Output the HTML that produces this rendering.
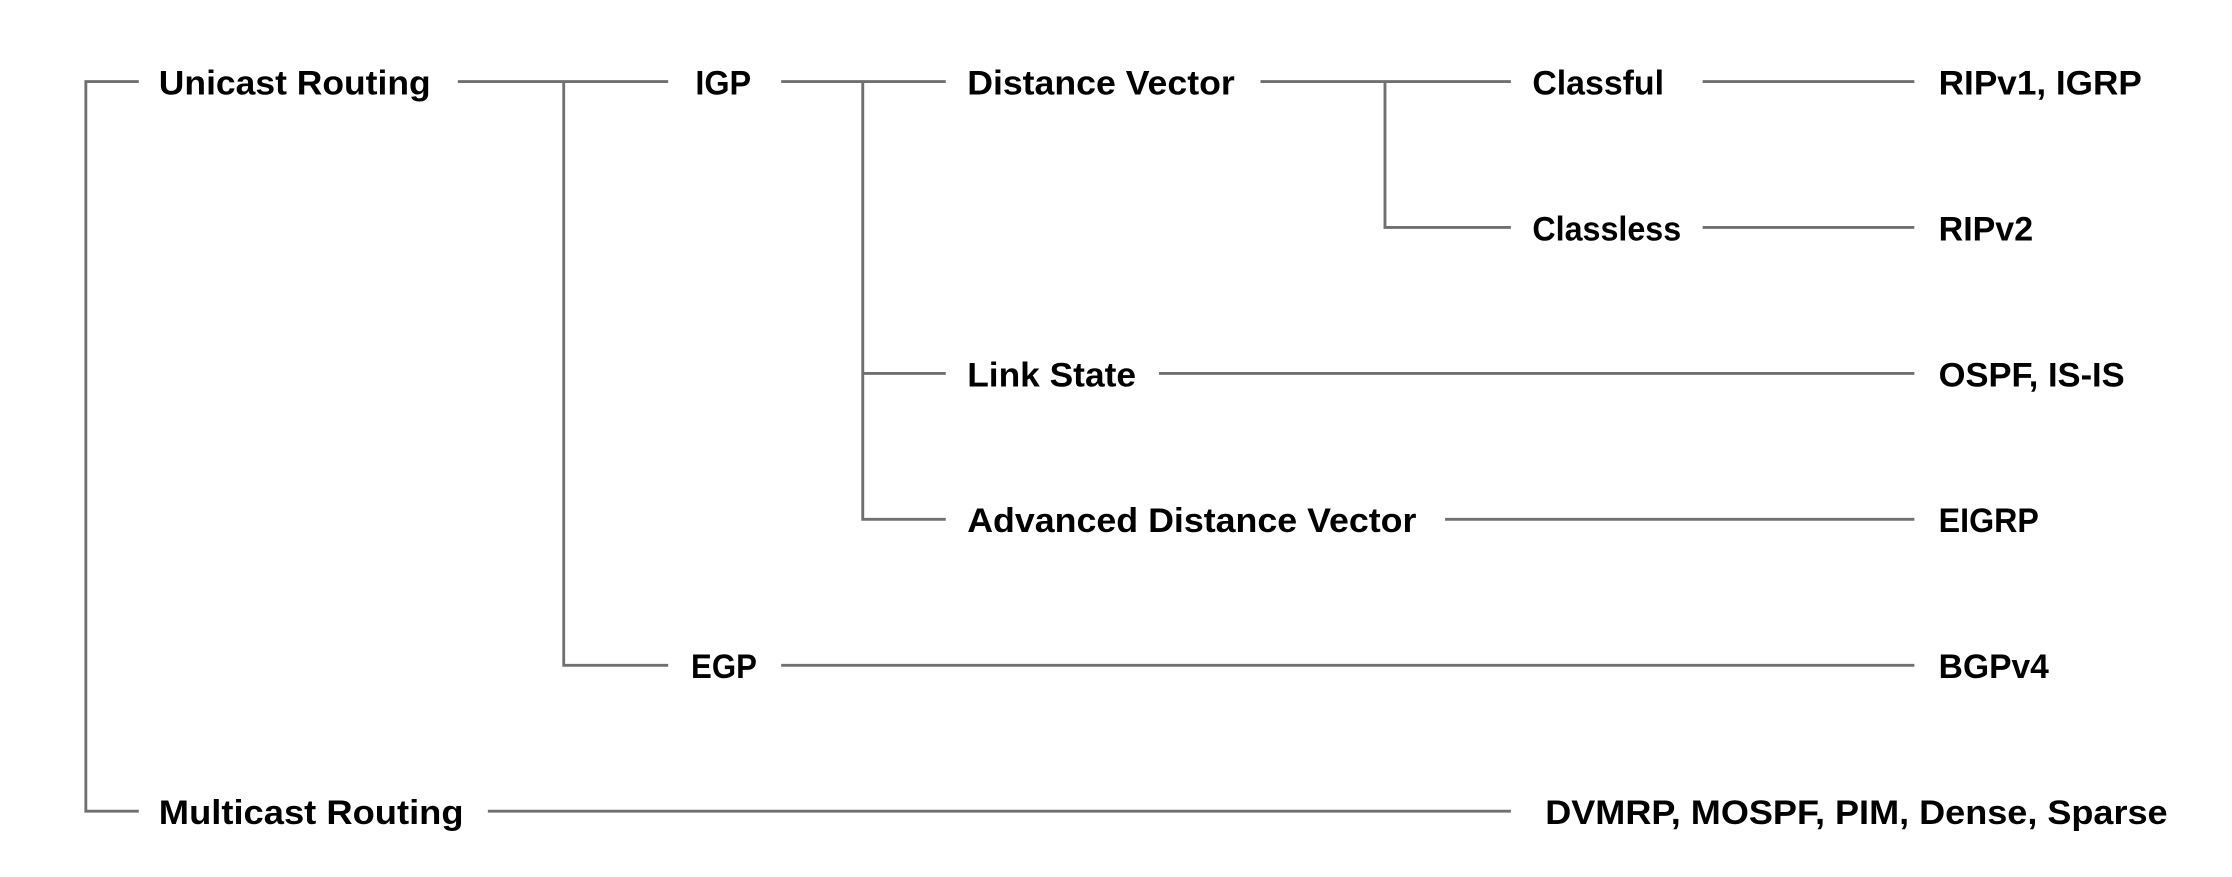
<!DOCTYPE html>
<html><head><meta charset="utf-8"><style>
html,body{margin:0;padding:0;background:#fff;}
svg{display:block;}
text{font-family:"Liberation Sans","Noto Sans CJK KR",sans-serif;font-weight:bold;font-size:24px;fill:#000;}
</style></head><body>
<svg width="2232" height="877" viewBox="0 0 1560 613" preserveAspectRatio="none" xmlns="http://www.w3.org/2000/svg">
<g stroke="#707070" stroke-width="2" fill="none">
<polyline points="97,57 60,57 60,567 97,567"/>
<line x1="320" y1="57" x2="467" y2="57"/>
<polyline points="394,57 394,465 467,465"/>
<line x1="546" y1="57" x2="661" y2="57"/>
<polyline points="603,57 603,363 661,363"/>
<line x1="603" y1="261" x2="661" y2="261"/>
<line x1="881" y1="57" x2="1056" y2="57"/>
<polyline points="968,57 968,159 1056,159"/>
<line x1="1190" y1="57" x2="1338" y2="57"/>
<line x1="1190" y1="159" x2="1338" y2="159"/>
<line x1="810" y1="261" x2="1338" y2="261"/>
<line x1="1010" y1="363" x2="1338" y2="363"/>
<line x1="546" y1="465" x2="1338" y2="465"/>
<line x1="341" y1="567" x2="1056" y2="567"/>
</g>
<g>
<text x="111" y="66" textLength="190" lengthAdjust="spacingAndGlyphs">Unicast Routing</text>
<text x="486" y="66" textLength="39" lengthAdjust="spacingAndGlyphs">IGP</text>
<text x="676" y="66" textLength="187" lengthAdjust="spacingAndGlyphs">Distance Vector</text>
<text x="1071" y="66" textLength="92" lengthAdjust="spacingAndGlyphs">Classful</text>
<text x="1355" y="66" textLength="142" lengthAdjust="spacingAndGlyphs">RIPv1, IGRP</text>
<text x="1071" y="168" textLength="104" lengthAdjust="spacingAndGlyphs">Classless</text>
<text x="1355" y="168" textLength="66" lengthAdjust="spacingAndGlyphs">RIPv2</text>
<text x="676" y="270" textLength="118" lengthAdjust="spacingAndGlyphs">Link State</text>
<text x="1355" y="270" textLength="130" lengthAdjust="spacingAndGlyphs">OSPF, IS-IS</text>
<text x="676" y="372" textLength="314" lengthAdjust="spacingAndGlyphs">Advanced Distance Vector</text>
<text x="1355" y="372" textLength="70" lengthAdjust="spacingAndGlyphs">EIGRP</text>
<text x="483" y="474" textLength="46" lengthAdjust="spacingAndGlyphs">EGP</text>
<text x="1355" y="474" textLength="77" lengthAdjust="spacingAndGlyphs">BGPv4</text>
<text x="111" y="576" textLength="213" lengthAdjust="spacingAndGlyphs">Multicast Routing</text>
<text x="1080" y="576" textLength="435" lengthAdjust="spacingAndGlyphs">DVMRP, MOSPF, PIM, Dense, Sparse</text>
</g>
</svg>
</body></html>
